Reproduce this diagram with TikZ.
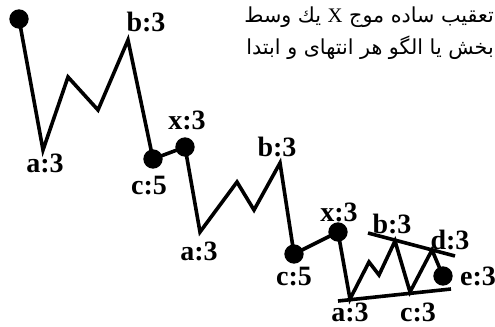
\documentclass[tikz,border=0pt]{standalone}
\usepackage{fontspec}
\setmainfont{Liberation Serif}
\newfontfamily\farsi[Script=Arabic]{DejaVu Sans}
\TeXXeTstate=1
\usetikzlibrary{positioning}

\begin{document}
\begin{tikzpicture}[x=0.75pt,y=-0.75pt,
      wave/.style={line width=2.7pt,line join=miter},
      trend/.style={line width=2.7pt},
      pivot/.style={circle,fill=black,inner sep=0pt,minimum size=14.5pt},
      lbl/.style={font=\fontsize{21}{21}\selectfont\bfseries,inner sep=0pt},
      note/.style={font=\farsi\fontsize{15.5}{17}\selectfont,inner sep=0pt,anchor=east}]
    \useasboundingbox (0,0) rectangle (495,327);
    % wave points
    \coordinate (p0) at (19,19);
    \coordinate (a1) at (43,150);
    \coordinate (w1a) at (68,77);
    \coordinate (w1b) at (98,110);
    \coordinate (b1) at (128,40);
    \coordinate (c1) at (153,159);
    \coordinate (x1) at (185,147);
    \coordinate (a2) at (200,232);
    \coordinate (w2a) at (237,182);
    \coordinate (w2b) at (254,210);
    \coordinate (b2) at (280,163);
    \coordinate (c2) at (294,254);
    \coordinate (x2) at (338,232);
    \coordinate (a3) at (350,299);
    \coordinate (w3a) at (369,262);
    \coordinate (w3b) at (379,275);
    \coordinate (b3) at (395,241);
    \coordinate (c3) at (410,292);
    \coordinate (d3) at (432,250);
    \coordinate (e3) at (443,276);
    % triangle borders
    \coordinate (up1) at (368,233);
    \coordinate (up2) at (455,256);
    \coordinate (lo1) at (338,301);
    \coordinate (lo2) at (451,289);
    \draw[trend] (up1) -- (up2);
    \draw[trend] (lo1) -- (lo2);
    \draw[wave] (p0) -- (a1) -- (w1a) -- (w1b) -- (b1) -- (c1) -- (x1)
      -- (a2) -- (w2a) -- (w2b) -- (b2) -- (c2) -- (x2)
      -- (a3) -- (w3a) -- (w3b) -- (b3) -- (c3) -- (d3) -- (e3);
    \node[pivot] (dp0) at (p0) {};
    \node[pivot] (dc1) at (c1) {};
    \node[pivot] (dx1) at (x1) {};
    \node[pivot] (dc2) at (c2) {};
    \node[pivot] (dx2) at (x2) {};
    \node[pivot] (de3) at (e3) {};
    % labels
    \node[lbl] (la1) at (45,163) {a:3};
    \node[lbl] (lb1) at (146,22) {b:3};
    \node[lbl] (lc1) at (149,186) {c:5};
    \node[lbl] (lx1) at (187,120) {x:3};
    \node[lbl] (la2) at (199,251) {a:3};
    \node[lbl] (lb2) at (277,147) {b:3};
    \node[lbl] (lc2) at (294,277) {c:5};
    \node[lbl] (lx2) at (339,212) {x:3};
    \node[lbl] (lb3) at (392,224) {b:3};
    \node[lbl] (ld3) at (450,240) {d:3};
    \node[lbl] (le3) at (478,276) {e:3};
    \node[lbl] (la3) at (350,312) {a:3};
    \node[lbl] (lc3) at (418,312) {c:3};
    % persian note
    \node[note] (n1) at (494,17) {\beginR تعقیب ساده موج {\rmfamily X} یك وسط\endR};
    \node[note] (n2) at (494,48) {\beginR بخش یا الگو هر انتهای و ابتدا\endR};
  \end{tikzpicture}
\end{document}
